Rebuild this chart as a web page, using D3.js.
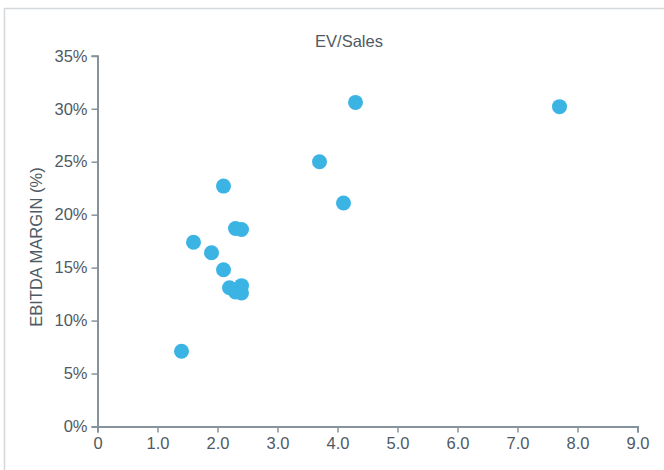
<!DOCTYPE html>
<html><head><meta charset="utf-8">
<script src="https://cdn.jsdelivr.net/npm/d3@7"></script>
<style>
html,body{margin:0;padding:0;background:#fff;}
svg{display:block;font-family:"Liberation Sans",Arial,Helvetica,sans-serif;}
</style></head>
<body>
<svg id="c" width="664" height="470"></svg>
<script>
const evSales = [1.4, 1.6, 1.9, 2.1, 2.1, 2.3, 2.4, 2.2, 2.3, 2.4, 2.4, 3.7, 4.1, 4.3, 7.7];
const ebitdaMargin = [7.1, 17.4, 16.4, 22.7, 14.8, 18.7, 18.6, 13.1, 12.7, 13.3, 12.6, 25.0, 21.1, 30.6, 30.2];
const xTicks = [0, 1, 2, 3, 4, 5, 6, 7, 8, 9];
const yTicks = [0, 5, 10, 15, 20, 25, 30, 35];
const title = "EV/Sales";
const yTitle = "EBITDA MARGIN (%)";

const svg = d3.select("#c");
// frame
svg.append("rect").attr("x",4.5).attr("y",8.5).attr("width",700).attr("height",500)
  .attr("fill","none").attr("stroke","#d3d8dc").attr("stroke-width",1.5);

const x = d3.scaleLinear().domain([0,9]).range([97.5,637.5]);
const y = d3.scaleLinear().domain([0,35]).range([426.5,55.8]);

const axisColor = "#86939c", textColor = "#505a63";
const fs = 16.5;

const gx = svg.append("g").attr("transform","translate(0,426.5)")
  .call(d3.axisBottom(x).tickValues(xTicks).tickSize(6).tickPadding(5)
    .tickFormat(d => d===0 ? "0" : d3.format(".1f")(d)));
const gy = svg.append("g").attr("transform","translate(97.5,0)")
  .call(d3.axisLeft(y).tickValues(yTicks).tickSize(6).tickPadding(4)
    .tickFormat(d => d + "%"));
[gx,gy].forEach(g=>{
  g.select(".domain").attr("stroke",axisColor).attr("stroke-width",2);
  g.selectAll(".tick line").attr("stroke",axisColor).attr("stroke-width",1.5);
  g.selectAll(".tick text").attr("fill",textColor).attr("font-size",fs)
    .attr("font-family","Liberation Sans, Arial, sans-serif");
});

svg.append("text").attr("x",349).attr("y",47).attr("text-anchor","middle")
  .attr("fill",textColor).attr("font-size",fs).text(title);
svg.append("text").attr("transform","translate(42,247) rotate(-90)")
  .attr("text-anchor","middle").attr("fill",textColor).attr("font-size",fs).text(yTitle);

svg.append("g").selectAll("circle").data(evSales.map((v,i)=>[v,ebitdaMargin[i]]))
  .join("circle").attr("cx",d=>x(d[0])).attr("cy",d=>y(d[1])).attr("r",7.5)
  .attr("fill","#3bb4e4");
</script>
</body></html>
